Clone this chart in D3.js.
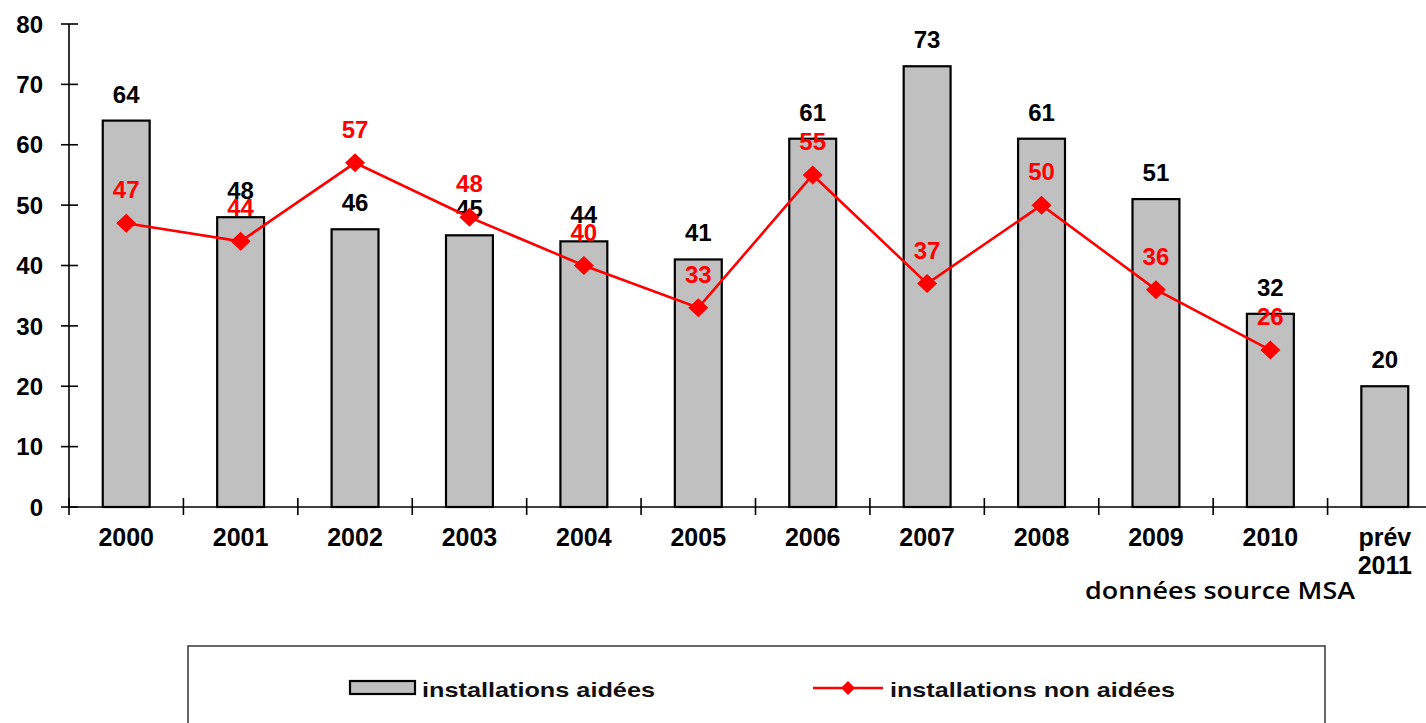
<!DOCTYPE html>
<html>
<head>
<meta charset="utf-8">
<script src="https://cdn.jsdelivr.net/npm/d3@7"></script>
<style>
  html, body { margin: 0; padding: 0; background: #fff; overflow: hidden; }
  svg { display: block; }
</style>
</head>
<body>
<svg id="chart" width="1426" height="723"></svg>
<script>
// ---- data ----
const categories = ["2000","2001","2002","2003","2004","2005","2006","2007","2008","2009","2010","prév 2011"];
const aidees = [64, 48, 46, 45, 44, 41, 61, 73, 61, 51, 32, 20];
const nonAidees = [47, 44, 57, 48, 40, 33, 55, 37, 50, 36, 26, null];
const yTicks = [0, 10, 20, 30, 40, 50, 60, 70, 80];
const seriesNames = ["installations aidées", "installations non aidées"];
const sourceNote = "données source MSA";

(function () {
const svg = d3.select("#chart");
const pLeft = 69, pRight = 1442, pTop = 24, pBottom = 507;

const x = d3.scaleBand().domain(categories).range([pLeft, pRight])
  .paddingInner(0.59).paddingOuter(0.295);
const step = x.step();
const cx = d => x(d) + x.bandwidth() / 2;
const y = d3.scaleLinear().domain([0, 80]).range([pBottom, pTop]);

const bold = "'Liberation Sans', Arial, sans-serif";

// bars
svg.append("g").selectAll("rect").data(categories).join("rect")
  .attr("x", d => x(d)).attr("width", x.bandwidth())
  .attr("y", (d, i) => y(aidees[i])).attr("height", (d, i) => y(0) - y(aidees[i]))
  .attr("fill", "#c0c0c0").attr("stroke", "#000").attr("stroke-width", 2.2);

// axes
const ax = svg.append("g").attr("stroke", "#000").attr("stroke-width", 1.6);
ax.append("line").attr("x1", pLeft).attr("x2", pLeft).attr("y1", y(80)).attr("y2", y(0));
ax.append("line").attr("x1", pLeft).attr("x2", pRight).attr("y1", y(0)).attr("y2", y(0));
ax.selectAll(".yt").data(yTicks).join("line").attr("class", "yt")
  .attr("x1", pLeft - 8).attr("x2", pLeft + 9).attr("y1", d => y(d)).attr("y2", d => y(d));
ax.selectAll(".xt").data(d3.range(categories.length + 1)).join("line").attr("class", "xt")
  .attr("x1", i => pLeft + i * step).attr("x2", i => pLeft + i * step)
  .attr("y1", y(0) - 9).attr("y2", y(0) + 8);

// y tick labels
svg.append("g").selectAll("text").data(yTicks).join("text")
  .attr("x", 43).attr("y", d => y(d)).attr("dy", "0.36em")
  .attr("text-anchor", "end").attr("font-family", bold).attr("font-weight", "bold")
  .attr("font-size", 24).attr("fill", "#000").text(d => d);

// x labels
const xl = svg.append("g").selectAll("text").data(categories).join("text")
  .attr("x", d => cx(d)).attr("y", 546)
  .attr("text-anchor", "middle").attr("font-family", bold).attr("font-weight", "bold")
  .attr("font-size", 25).attr("fill", "#000");
xl.each(function(d) {
  const parts = d.split(" ");
  d3.select(this).selectAll("tspan").data(parts).join("tspan")
    .attr("x", cx(d)).attr("dy", (p, j) => j === 0 ? 0 : 28).text(p => p);
});

// source note
svg.append("text").attr("x", 1085).attr("y", 599)
  .attr("font-family", "'Open Sans', 'Noto Sans', sans-serif").attr("font-size", 23)
  .attr("font-weight", 600)
  .attr("textLength", 270).attr("lengthAdjust", "spacingAndGlyphs")
  .attr("fill", "#000").text(sourceNote);

// bar labels
svg.append("g").selectAll("text").data(categories).join("text")
  .attr("x", d => cx(d)).attr("y", (d, i) => y(aidees[i]) - 18)
  .attr("text-anchor", "middle").attr("font-family", bold).attr("font-weight", "bold")
  .attr("font-size", 24).attr("fill", "#000").text((d, i) => aidees[i]);

// line series
const pts = categories.map((c, i) => ({c, v: nonAidees[i]})).filter(p => p.v != null);
svg.append("path").datum(pts)
  .attr("d", d3.line().x(p => cx(p.c)).y(p => y(p.v)))
  .attr("fill", "none").attr("stroke", "#ff0000").attr("stroke-width", 2.6);
const diamond = (px, py, w, h) => `M${px},${py - h}L${px + w},${py}L${px},${py + h}L${px - w},${py}Z`;
svg.append("g").selectAll("path").data(pts).join("path")
  .attr("d", p => diamond(cx(p.c), y(p.v), 10, 9.5)).attr("fill", "#ff0000");
svg.append("g").selectAll("text").data(pts).join("text")
  .attr("x", p => cx(p.c)).attr("y", p => y(p.v) - 25)
  .attr("text-anchor", "middle").attr("font-family", bold).attr("font-weight", "bold")
  .attr("font-size", 24).attr("fill", "#ff0000").text(p => p.v);

// legend
const lg = svg.append("g");
lg.append("rect").attr("x", 188).attr("y", 646).attr("width", 1137).attr("height", 120)
  .attr("fill", "none").attr("stroke", "#444").attr("stroke-width", 1.6);
lg.append("rect").attr("x", 350).attr("y", 681).attr("width", 65).attr("height", 13)
  .attr("fill", "#c0c0c0").attr("stroke", "#000").attr("stroke-width", 2.2);
lg.append("text").attr("x", 422).attr("y", 697)
  .attr("font-family", bold).attr("font-weight", "bold").attr("font-size", 21)
  .attr("textLength", 233).attr("lengthAdjust", "spacingAndGlyphs")
  .attr("fill", "#111").text(seriesNames[0]);
lg.append("line").attr("x1", 813).attr("x2", 883).attr("y1", 688).attr("y2", 688)
  .attr("stroke", "#ff0000").attr("stroke-width", 2.6);
lg.append("path").attr("d", diamond(848, 688, 7, 7)).attr("fill", "#ff0000");
lg.append("text").attr("x", 890).attr("y", 697)
  .attr("font-family", bold).attr("font-weight", "bold").attr("font-size", 21)
  .attr("textLength", 285).attr("lengthAdjust", "spacingAndGlyphs")
  .attr("fill", "#111").text(seriesNames[1]);
})();
</script>
</body>
</html>
